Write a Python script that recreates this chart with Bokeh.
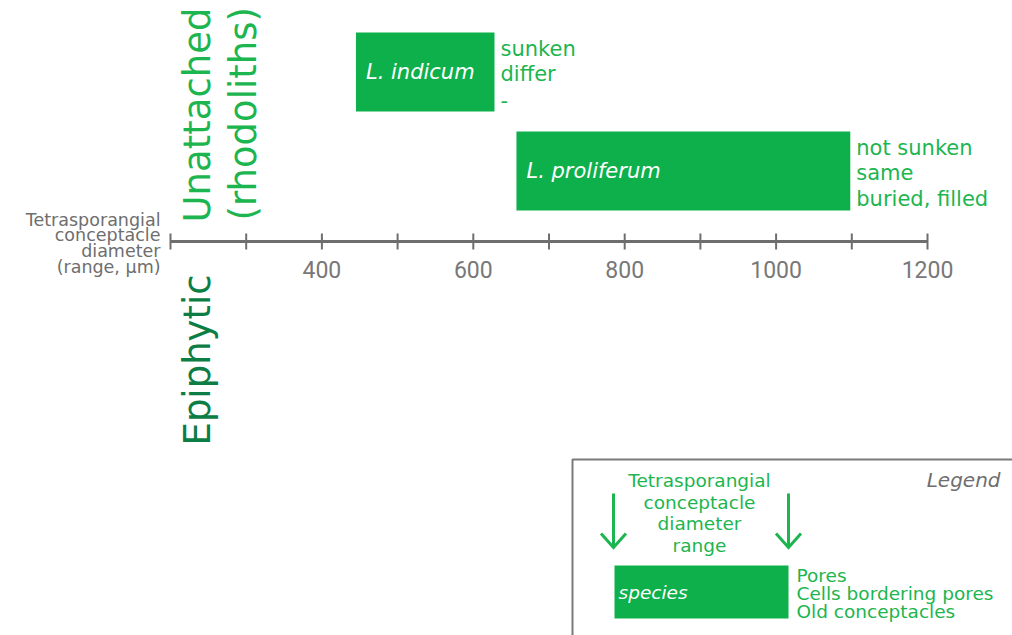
from bokeh.plotting import figure
from bokeh.models import Range1d
from bokeh.core.properties import value
from bokeh.embed import file_html
from bokeh.resources import INLINE

# ---- data ----
species = ["L. indicum", "L. proliferum"]
range_low = [445, 657]
range_high = [628, 1098]
pores = ["sunken", "not sunken"]
cells = ["differ", "same"]
old_conc = ["-", "buried, filled"]
ticks = [200, 300, 400, 500, 600, 700, 800, 900, 1000, 1100, 1200]
tick_labels = [400, 600, 800, 1000, 1200]

W, H = 1012, 635
SCALE = 0.757  # px per unit
XS = 200 - 170 / SCALE
XE = XS + W / SCALE

def X(px):  # page px -> data x (layout helper)
    return XS + px / SCALE

def Y(py):  # page px -> data y
    return py

GREEN = "#0db04b"
TGREEN = "#1db54f"
DGREEN = "#0c7d45"
GRAY = "#6e6e6e"
FONT = value("DejaVu Sans")

p = figure(width=W, height=H, output_backend="svg", toolbar_location=None,
           x_range=Range1d(XS, XE), y_range=Range1d(H, 0),
           x_axis_type=None, y_axis_type=None, min_border=0,
           outline_line_color=None, background_fill_color="white")
p.grid.visible = False

# axis
ay = Y(241)
p.segment(x0=[ticks[0]], y0=[ay], x1=[ticks[-1]], y1=[ay], line_color=GRAY, line_width=3)
p.segment(x0=ticks, y0=[ay - 8] * len(ticks), x1=ticks, y1=[ay + 8] * len(ticks),
          line_color=GRAY, line_width=2)
p.text(x=tick_labels, y=[Y(269)] * len(tick_labels), text=[str(t) for t in tick_labels],
       text_align="center", text_baseline="middle", text_color="#787878",
       text_font=value("Roboto"), text_font_size="23px")

# axis title
for i, t in enumerate(["Tetrasporangial", "conceptacle", "diameter", "(range, \u00b5m)"]):
    p.text(x=[X(160)], y=[Y(219 + 15.7 * i)], text=[t], text_align="right",
           text_baseline="middle", text_color=GRAY, text_font=FONT, text_font_size="17.5px")

# bars
bar_y = [Y(71.5), Y(170.5)]
p.rect(x=[(a + b) / 2 for a, b in zip(range_low, range_high)], y=bar_y,
       width=[b - a for a, b in zip(range_low, range_high)], height=[79, 79],
       fill_color=GREEN, line_color=None)
p.text(x=[r + 10 / SCALE for r in range_low], y=bar_y, text=species, text_align="left",
       text_baseline="middle", text_color="white", text_font=FONT,
       text_font_size="21px", text_font_style="italic")
for k, col in enumerate([pores, cells, old_conc]):
    p.text(x=[r + 6 / SCALE for r in range_high], y=[by - 23.5 + k * 25.7 for by in bar_y],
           text=col, text_align="left", text_baseline="middle", text_color=TGREEN,
           text_font=FONT, text_font_size="21px")

# vertical habitat labels
p.text(x=[X(197)], y=[Y(222)], text=["Unattached"], angle=1.5708, text_align="left",
       text_baseline="middle", text_color=TGREEN, text_font=FONT, text_font_size="37px")
p.text(x=[X(243)], y=[Y(220)], text=["(rhodoliths)"], angle=1.5708, text_align="left",
       text_baseline="middle", text_color=TGREEN, text_font=FONT, text_font_size="37px")
p.text(x=[X(197)], y=[Y(445)], text=["Epiphytic"], angle=1.5708, text_align="left",
       text_baseline="middle", text_color=DGREEN, text_font=FONT, text_font_size="37px")

# legend box
p.quad(left=[X(572)], right=[X(1040)], top=[Y(459)], bottom=[Y(660)],
       fill_color=None, line_color="#7a7a7a", line_width=2)
p.text(x=[X(1000)], y=[Y(479)], text=["Legend"], text_align="right", text_baseline="middle",
       text_color=GRAY, text_font=FONT, text_font_size="20px", text_font_style="italic")
for i, t in enumerate(["Tetrasporangial", "conceptacle", "diameter", "range"]):
    p.text(x=[X(699)], y=[Y(480 + 21.7 * i)], text=[t], text_align="center",
           text_baseline="middle", text_color=TGREEN, text_font=FONT, text_font_size="18.5px")
for ax in [613, 788]:
    p.segment(x0=[X(ax)], y0=[Y(493)], x1=[X(ax)], y1=[Y(547)],
              line_color=TGREEN, line_width=3)
    p.multi_line(xs=[[X(ax - 12.5), X(ax), X(ax + 12.5)]], ys=[[Y(533), Y(547), Y(533)]],
                 line_color=TGREEN, line_width=3, line_join="miter")
p.quad(left=[X(614)], right=[X(788)], top=[Y(565)], bottom=[Y(618)],
       fill_color=GREEN, line_color=None)
p.text(x=[X(618)], y=[Y(592)], text=["species"], text_align="left", text_baseline="middle",
       text_color="white", text_font=FONT, text_font_size="18.5px", text_font_style="italic")
for i, t in enumerate(["Pores", "Cells bordering pores", "Old conceptacles"]):
    p.text(x=[X(796)], y=[Y(575 + 18 * i)], text=[t], text_align="left",
           text_baseline="middle", text_color=TGREEN, text_font=FONT, text_font_size="18.5px")

open("out.html", "w").write(file_html(p, INLINE))
